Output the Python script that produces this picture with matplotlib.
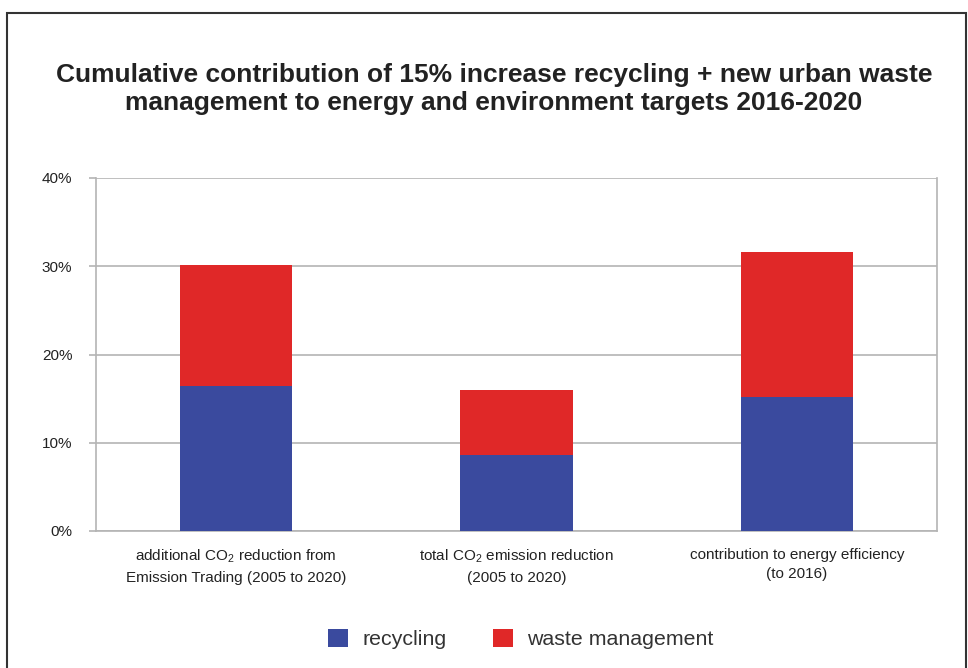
import matplotlib.pyplot as plt
import matplotlib.patches as mpatches
from matplotlib.ticker import PercentFormatter

# values in percent
categories = ['additional CO$_2$ reduction from\nEmission Trading (2005 to 2020)',
              'total CO$_2$ emission reduction\n(2005 to 2020)',
              'contribution to energy efficiency\n(to 2016)']
recycling = [16.4, 8.6, 15.2]
waste_management = [13.7, 7.4, 16.4]
yticks = [0, 10, 20, 30, 40]

blue = '#3a4a9e'
red = '#e02828'
grid = '#b4b4b4'

plt.rcParams['font.family'] = ['Liberation Sans', 'DejaVu Sans']
plt.rcParams['mathtext.fontset'] = 'custom'
plt.rcParams['mathtext.rm'] = 'Liberation Sans'
plt.rcParams['mathtext.it'] = 'Liberation Sans'

fig = plt.figure(figsize=(9.68, 6.68), dpi=100)
ax = fig.add_axes([96 / 968, 1 - 531 / 668, 841 / 968, 353 / 668])

x = range(len(categories))
ax.bar(x, recycling, width=0.4, color=blue, label='recycling', zorder=3)
ax.bar(x, waste_management, width=0.4, bottom=recycling, color=red,
       label='waste management', zorder=3)

ax.set_xlim(-0.5, 2.5)
ax.set_ylim(0, 40)
ax.set_yticks(yticks)
ax.yaxis.set_major_formatter(PercentFormatter(decimals=0))
ax.yaxis.grid(True, color=grid, linewidth=1.2, zorder=0)
ax.set_xticks(list(x))
ax.set_xticklabels(categories, fontsize=11, color='#222222', linespacing=1.5,
                   va='top')
ax.tick_params(axis='x', length=0, pad=12)
ax.tick_params(axis='y', length=5, color=grid, width=1.2, labelsize=11,
               labelcolor='#222222', pad=12)
for s in ax.spines.values():
    s.set_color(grid)
    s.set_linewidth(1.2)
ax.spines['top'].set_visible(False)

fig.text(494 / 968, 1 - 89 / 668,
         'Cumulative contribution of 15% increase recycling + new urban waste\n'
         'management to energy and environment targets 2016-2020',
         ha='center', va='center', fontsize=19.0, fontweight='bold',
         color='#222222', linespacing=1.22)

fig.legend(loc='center', bbox_to_anchor=(521 / 968, 1 - 639 / 668), ncol=2,
           frameon=False, fontsize=15.4, handlelength=0.93, handleheight=0.93,
           columnspacing=2.2, handletextpad=0.65, labelcolor='#333333')

# outer frame
fig.patches.append(mpatches.Rectangle((7 / 968, -0.05), 959 / 968, 1.05 - 13 / 668,
                                      transform=fig.transFigure, fill=False,
                                      edgecolor='#333333', linewidth=1.5))

fig.savefig('out.png', dpi=100)
